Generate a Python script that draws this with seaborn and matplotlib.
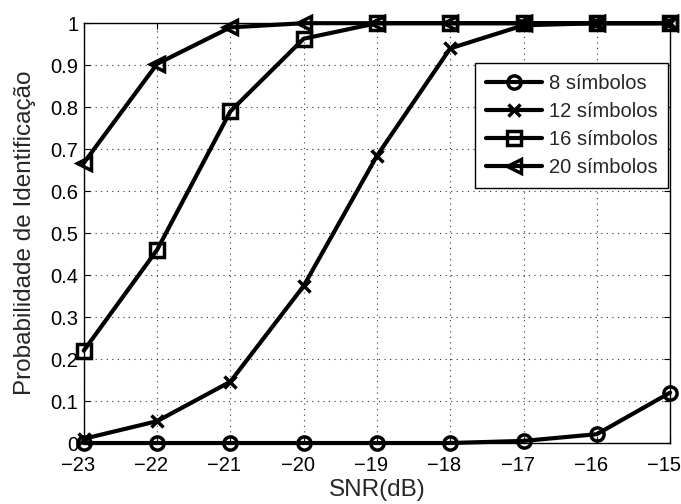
import matplotlib
matplotlib.use("Agg")
import matplotlib.pyplot as plt
import matplotlib.transforms as mtransforms
import numpy as np
import pandas as pd
import seaborn as sns

snr_db = [-23, -22, -21, -20, -19, -18, -17, -16, -15]
p_8 = [0.0, 0.0, 0.0, 0.0, 0.0, 0.0, 0.005, 0.021, 0.12]
p_12 = [0.01, 0.052, 0.146, 0.374, 0.684, 0.94, 0.995, 1.0, 1.0]
p_16 = [0.22, 0.46, 0.79, 0.963, 1.0, 1.0, 1.0, 1.0, 1.0]
p_20 = [0.667, 0.903, 0.99, 1.0, 1.0, 1.0, 1.0, 1.0, 1.0]

series_names = ["8 símbolos", "12 símbolos", "16 símbolos", "20 símbolos"]
series_values = [p_8, p_12, p_16, p_20]
series_markers = ["o", "x", "s", "<"]
x_ticks = [-23, -22, -21, -20, -19, -18, -17, -16, -15]
y_ticks = [0, 0.1, 0.2, 0.3, 0.4, 0.5, 0.6, 0.7, 0.8, 0.9, 1]
y_tick_labels = ["0", "0.1", "0.2", "0.3", "0.4", "0.5", "0.6", "0.7", "0.8", "0.9", "1"]


def main():
    sns.set_theme(style="white")
    plt.rcParams["font.family"] = ["Liberation Sans", "DejaVu Sans"]
    plt.rcParams["axes.unicode_minus"] = True

    fig = plt.figure(figsize=(6.81, 5.04), dpi=100)
    ax = fig.add_axes([0.123, 0.121, 0.861, 0.833])

    df = pd.DataFrame({"snr": snr_db})
    for name, vals, mk in zip(series_names, series_values, series_markers):
        df[name] = vals
        sns.lineplot(
            data=df, x="snr", y=name, ax=ax, color="black", linewidth=3.0,
            marker=mk, markersize=9.5 if mk != "x" else 8.5, markerfacecolor="none",
            markeredgecolor="black", markeredgewidth=2.5, label=name,
            clip_on=False, zorder=3,
        )

    ax.set_xlim(-23, -15)
    ax.set_ylim(0, 1)
    ax.set_xticks(x_ticks)
    ax.set_xticklabels([f"\u2212{abs(t)}" for t in x_ticks])
    ax.set_yticks(y_ticks)
    ax.set_yticklabels(y_tick_labels)
    ax.grid(True, linestyle=(0, (1, 4)), color="black", linewidth=0.8, alpha=0.8)
    ax.tick_params(direction="in", length=4, width=0.8, labelsize=14.5,
                   top=True, right=True, bottom=True, left=True, colors="black")
    ax.tick_params(axis="x", pad=9)
    ax.tick_params(axis="y", pad=4)
    # labels sit a little left of their ticks, as in the original export
    shift = mtransforms.ScaledTranslation(-0.06, 0, fig.dpi_scale_trans)
    for lbl in ax.get_xticklabels():
        lbl.set_transform(lbl.get_transform() + shift)
    for s in ax.spines.values():
        s.set_color("black")
        s.set_linewidth(1.0)

    ax.set_xlabel("SNR(dB)", fontsize=17.5, labelpad=3)
    ax.set_ylabel("Probabilidade de Identificação", fontsize=17.5, labelpad=10)

    leg = ax.legend(loc="upper right", bbox_to_anchor=(0.997, 0.905), fontsize=14.5,
                    frameon=True, fancybox=False, edgecolor="black",
                    handlelength=2.8, handletextpad=0.3, borderpad=0.55,
                    labelspacing=0.45, borderaxespad=0)
    leg.get_frame().set_linewidth(1.0)
    leg.get_frame().set_alpha(1.0)

    fig.savefig("out.png", dpi=100)
    plt.close(fig)


if __name__ == "__main__":
    main()
